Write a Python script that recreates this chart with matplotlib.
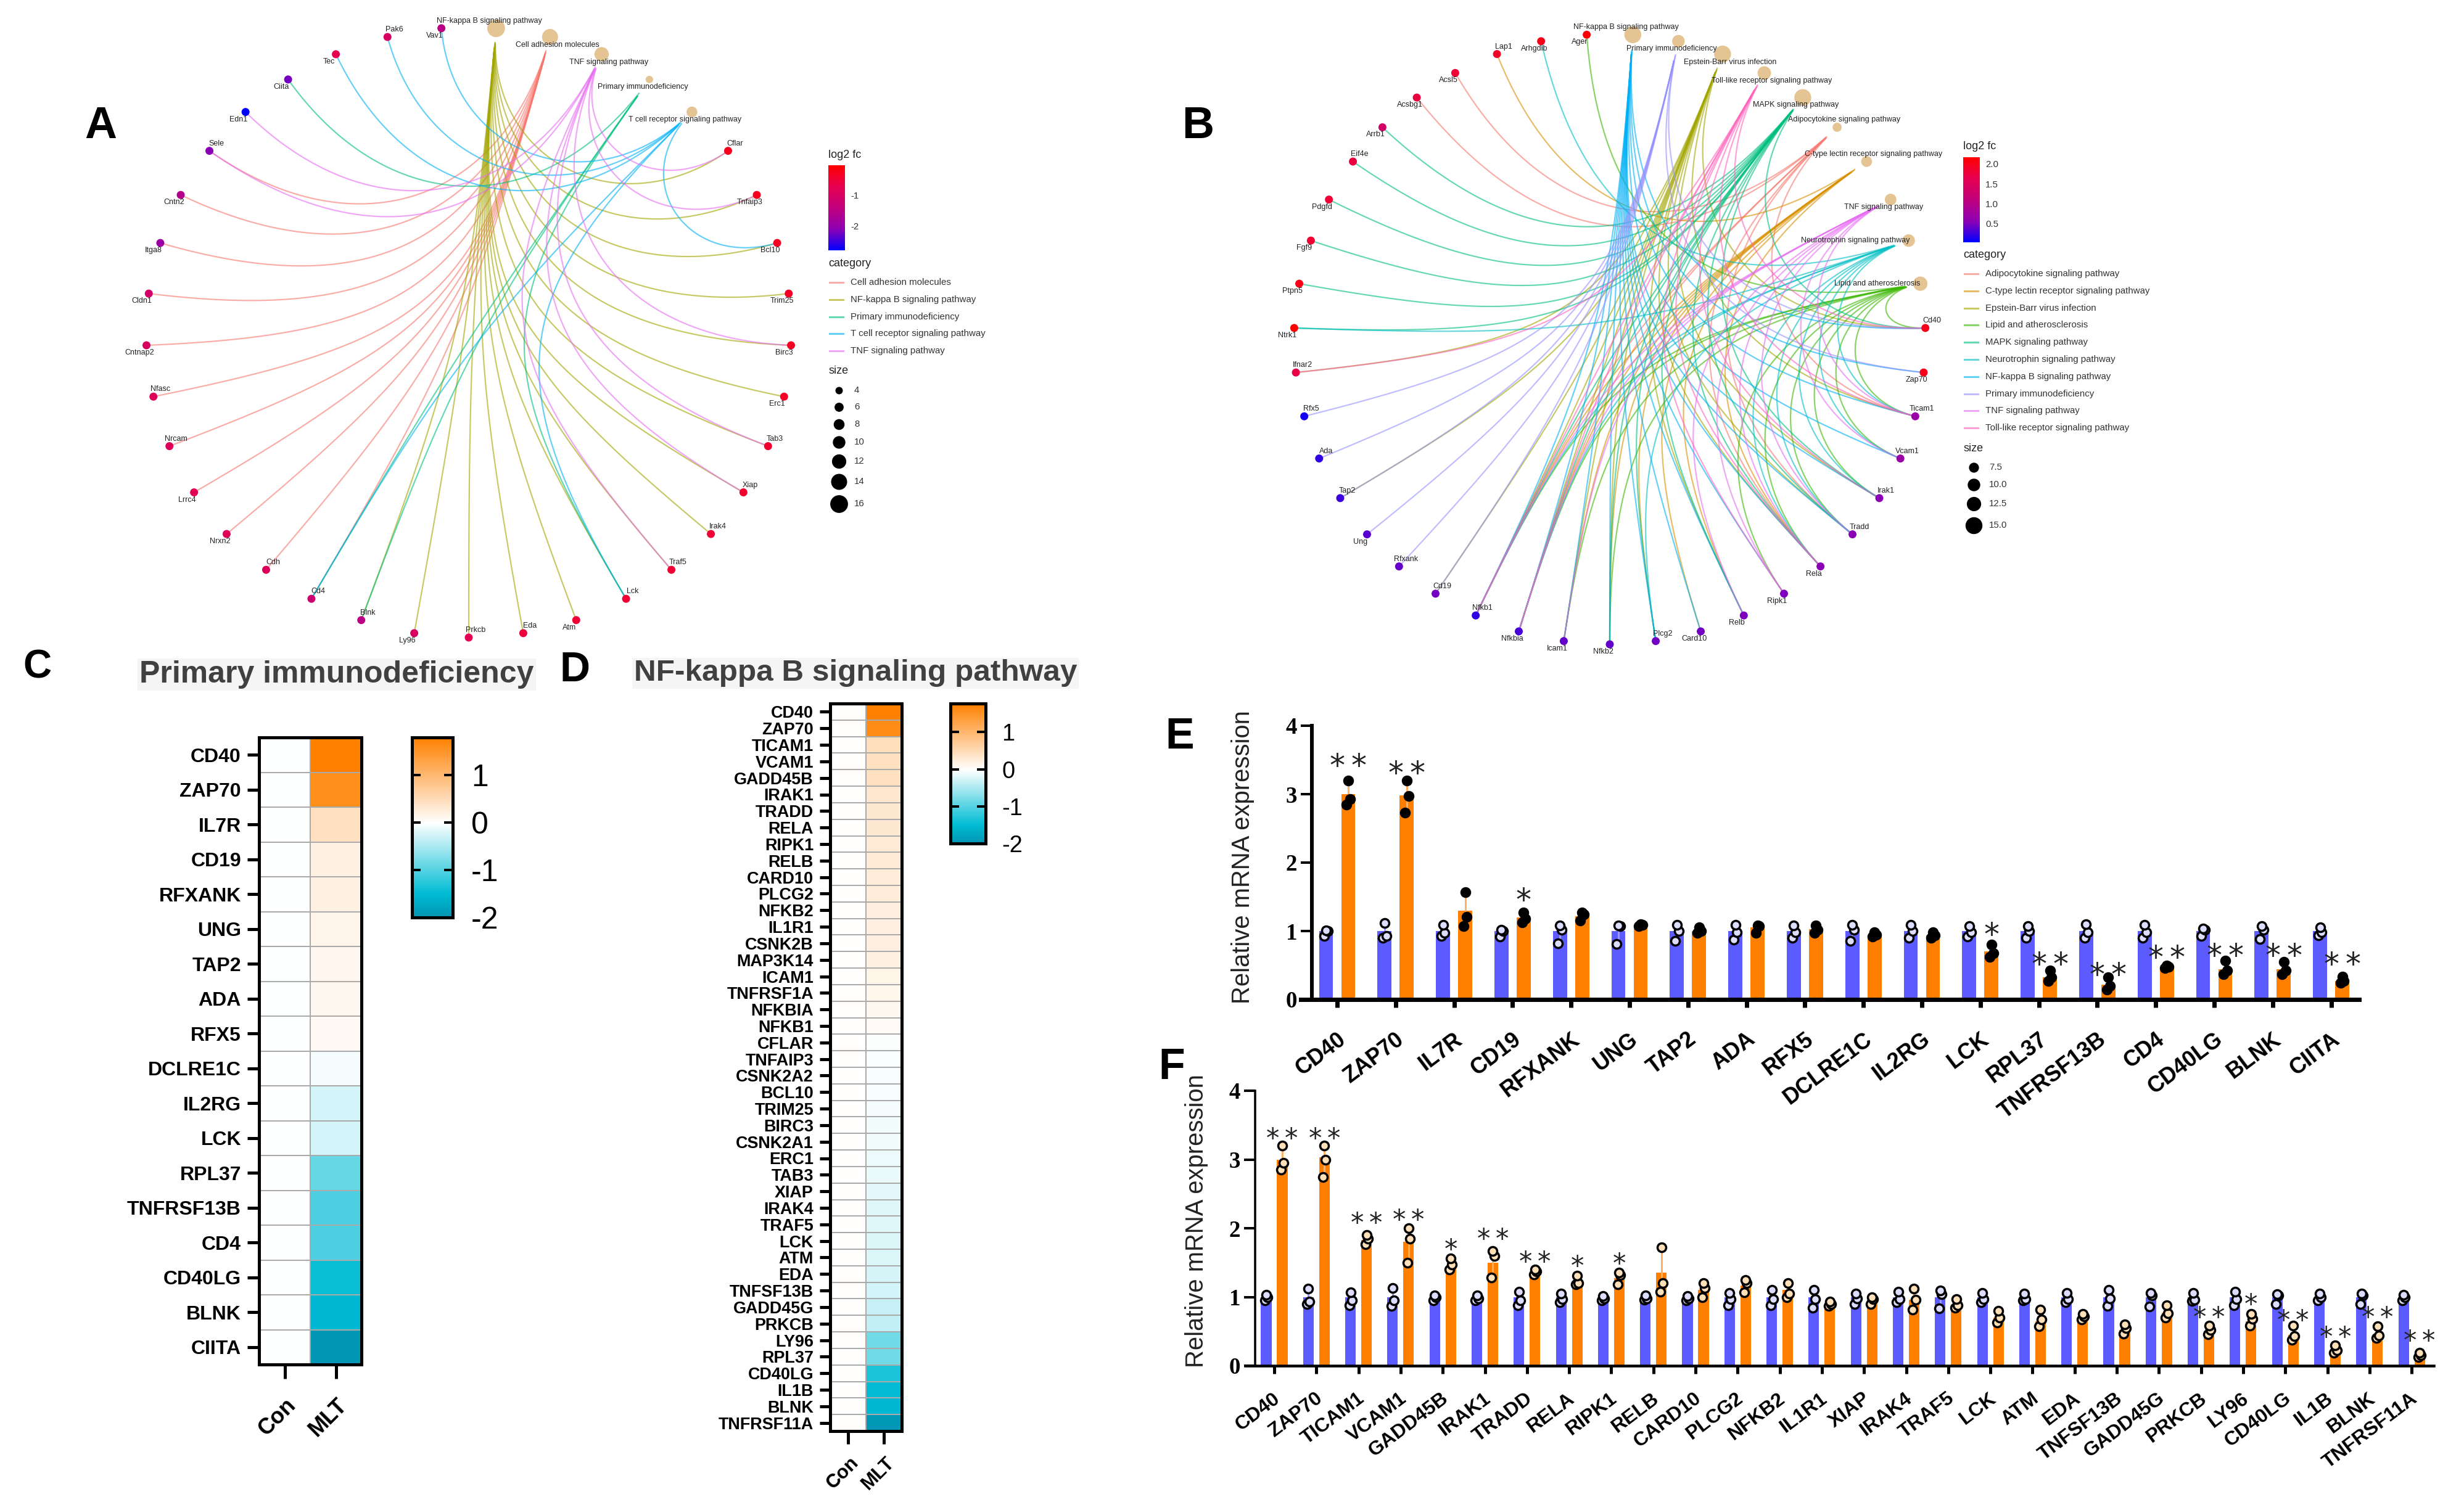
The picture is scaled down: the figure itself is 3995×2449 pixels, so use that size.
import numpy as np
import matplotlib
matplotlib.use("Agg")
import matplotlib.pyplot as plt
from matplotlib.colors import LinearSegmentedColormap, Normalize
from matplotlib.cm import ScalarMappable
from matplotlib.transforms import ScaledTranslation

W, H = 3995, 2449
plt.rcParams["font.family"] = ["Liberation Sans", "DejaVu Sans"]

# ---- network A ----
a_path = ["NF-kappa B signaling pathway", "Cell adhesion molecules", "TNF signaling pathway",
          "Primary immunodeficiency", "T cell receptor signaling pathway"]
a_path_size = [16, 14, 12, 4, 8]
a_genes = ["Cflar", "Tnfaip3", "Bcl10", "Trim25", "Birc3", "Erc1", "Tab3", "Xiap", "Irak4", "Traf5",
           "Lck", "Atm", "Eda", "Prkcb", "Ly96", "Blnk", "Cd4", "Cdh", "Nrxn2", "Lrrc4", "Nrcam",
           "Nfasc", "Cntnap2", "Cldn1", "Itga8", "Cntn2", "Sele", "Edn1", "Ciita", "Tec", "Pak6", "Vav1"]
a_fc = [-.3, -.3, -.35, -.4, -.35, -.4, -.45, -.45, -.5, -.5, -.5, -.5, -.55, -.75, -1.0, -1.5, -1.2,
        -.9, -.85, -.8, -.9, -.9, -1.0, -1.1, -1.9, -1.6, -2.1, -2.77, -2.2, -.7, -1.0, -1.5]
a_sides = ["ul", "dr", "dr", "dl", "dl", "ur", "dl", "dl", "dl", "dl", "dl", "ur", "ur", "ur", "ur", "ur",
           "dl", "ur", "ur", "dl", "ur", "ur", "ur", "dl", "dl", "ur", "ur", "dl", "dl", "dl", "dl", "ur",
           "dl", "dl", "dl", "ur", "dl"]
a_edges = {
    "Cell adhesion molecules": ["Sele", "Cntn2", "Itga8", "Cldn1", "Cntnap2", "Nfasc", "Nrcam", "Lrrc4",
                                "Nrxn2", "Cdh", "Cd4"],
    "NF-kappa B signaling pathway": ["Cflar", "Tnfaip3", "Bcl10", "Trim25", "Birc3", "Erc1", "Tab3", "Xiap",
                                     "Irak4", "Traf5", "Lck", "Atm", "Eda", "Prkcb", "Ly96", "Blnk"],
    "Primary immunodeficiency": ["Ciita", "Blnk", "Cd4", "Lck"],
    "T cell receptor signaling pathway": ["Bcl10", "Lck", "Cd4", "Tec", "Pak6", "Vav1"],
    "TNF signaling pathway": ["Edn1", "Sele", "Cflar", "Tnfaip3", "Birc3", "Tab3", "Xiap", "Traf5"],
}
a_edge_colors = ["#F8766D", "#A3A500", "#00BF7D", "#00B0F6", "#E76BF3"]
a_size_keys = ["4", "6", "8", "10", "12", "14", "16"]

# ---- network B ----
b_path = ["NF-kappa B signaling pathway", "Primary immunodeficiency", "Epstein-Barr virus infection",
          "Toll-like receptor signaling pathway", "MAPK signaling pathway", "Adipocytokine signaling pathway",
          "C-type lectin receptor signaling pathway", "TNF signaling pathway", "Neurotrophin signaling pathway",
          "Lipid and atherosclerosis"]
b_path_size = [15, 10, 15, 11, 15, 6, 8, 9, 10, 12]
b_genes = ["Cd40", "Zap70", "Ticam1", "Vcam1", "Irak1", "Tradd", "Rela", "Ripk1", "Relb", "Card10", "Plcg2",
           "Nfkb2", "Icam1", "Nfkbia", "Nfkb1", "Cd19", "Rfxank", "Ung", "Tap2", "Ada", "Rfx5", "Ifnar2",
           "Ntrk1", "Ptpn5", "Fgf9", "Pdgfd", "Eif4e", "Arrb1", "Acsbg1", "Acsl5", "Lap1", "Arhgdib", "Ager"]
b_fc = [2.0, 2.0, .7, .7, .55, .55, .55, .5, .5, .45, .45, .4, .4, .3, .2, .45, .4, .35, .25, .2, .1, 1.7,
        2.15, 2.0, 1.85, 1.8, 1.75, 1.35, 1.75, 1.8, 1.9, 2.0, 2.1]
b_sides = ["ul", "dl", "dr", "dr", "dl", "ur", "ur", "dl", "l1", "l2",
           "ur", "dl", "ur", "ur", "ur", "ur", "dl", "dl", "dl", "dl", "ur", "dl", "dl", "dl", "ur", "ur", "ur",
           "dl", "ur", "ur", "ur", "ur", "dl", "dl", "dl", "dl", "ur", "dl", "dl", "dl", "ur", "dl", "dl"]
b_edges = {
    "Adipocytokine signaling pathway": ["Acsbg1", "Acsl5", "Rela", "Nfkb1", "Tradd", "Nfkbia", "Ticam1"],
    "C-type lectin receptor signaling pathway": ["Lap1", "Nfkb2", "Plcg2", "Rela", "Relb", "Nfkb1", "Card10",
                                                 "Nfkbia", "Icam1"],
    "Epstein-Barr virus infection": ["Ifnar2", "Tap2", "Cd19", "Relb", "Nfkbia", "Rela", "Nfkb1", "Icam1",
                                     "Cd40", "Tradd", "Irak1", "Ticam1", "Nfkb2"],
    "Lipid and atherosclerosis": ["Ager", "Cd40", "Ticam1", "Vcam1", "Irak1", "Tradd", "Rela", "Ripk1", "Nfkb1",
                                  "Nfkbia", "Icam1", "Nfkb2"],
    "MAPK signaling pathway": ["Arrb1", "Eif4e", "Pdgfd", "Fgf9", "Ptpn5", "Ntrk1", "Cd40", "Irak1", "Tradd",
                               "Rela", "Nfkb1", "Nfkb2", "Relb", "Plcg2", "Nfkbia"],
    "Neurotrophin signaling pathway": ["Arhgdib", "Ntrk1", "Irak1", "Tradd", "Rela", "Nfkbia", "Nfkb1", "Ticam1",
                                       "Vcam1", "Plcg2"],
    "NF-kappa B signaling pathway": ["Cd40", "Zap70", "Ticam1", "Vcam1", "Irak1", "Tradd", "Rela", "Ripk1", "Relb",
                                     "Card10", "Plcg2", "Nfkb2", "Icam1", "Nfkbia", "Nfkb1"],
    "Primary immunodeficiency": ["Cd40", "Zap70", "Cd19", "Rfxank", "Ung", "Tap2", "Ada", "Rfx5"],
    "TNF signaling pathway": ["Vcam1", "Tradd", "Rela", "Ripk1", "Relb", "Icam1", "Nfkb1", "Nfkbia", "Ticam1"],
    "Toll-like receptor signaling pathway": ["Ifnar2", "Ticam1", "Ripk1", "Cd40", "Rela", "Irak1", "Nfkb1", "Nfkbia"],
}
b_edge_colors = ["#F8766D", "#D89000", "#A3A500", "#39B600", "#00BF7D", "#00BFC4", "#00B0F6", "#9590FF",
                 "#E76BF3", "#FF62BC"]
b_size_keys = ["7.5", "10.0", "12.5", "15.0"]

# ---- heatmaps ----
c_genes = ["CD40", "ZAP70", "IL7R", "CD19", "RFXANK", "UNG", "TAP2", "ADA", "RFX5", "DCLRE1C", "IL2RG", "LCK",
           "RPL37", "TNFRSF13B", "CD4", "CD40LG", "BLNK", "CIITA"]
c_mlt = [1.8, 1.6, .42, .2, .2, .15, .12, .1, .08, -.06, -.25, -.25, -.9, -1.05, -1.05, -1.45, -1.55, -2.0]
d_genes = ["CD40", "ZAP70", "TICAM1", "VCAM1", "GADD45B", "IRAK1", "TRADD", "RELA", "RIPK1", "RELB", "CARD10",
           "PLCG2", "NFKB2", "IL1R1", "CSNK2B", "MAP3K14", "ICAM1", "TNFRSF1A", "NFKBIA", "NFKB1", "CFLAR",
           "TNFAIP3", "CSNK2A2", "BCL10", "TRIM25", "BIRC3", "CSNK2A1", "ERC1", "TAB3", "XIAP", "IRAK4", "TRAF5",
           "LCK", "ATM", "EDA", "TNFSF13B", "GADD45G", "PRKCB", "LY96", "RPL37", "CD40LG", "IL1B", "BLNK",
           "TNFRSF11A"]
d_mlt = [1.77, 1.6, .45, .42, .42, .32, .3, .3, .28, .27, .25, .25, .22, .2, .2, .18, .15, .12, .08, .05, -.04,
         -.05, -.06, -.07, -.08, -.09, -.1, -.12, -.14, -.18, -.2, -.2, -.22, -.22, -.25, -.27, -.35, -.38, -.85,
         -.85, -1.35, -1.5, -1.55, -1.95]

# ---- bars E ----
e_genes = c_genes
e_mean = [3.0, 2.98, 1.3, 1.2, 1.22, 1.09, 1.0, 1.05, 1.03, .95, .94, .7, .32, .22, .48, .44, .44, .27]
e_con = [[.93, 1.0, 1.01], [.9, .93, 1.12], [.93, .97, 1.09], [.92, 1.0, 1.02], [.82, 1.02, 1.08], [.81, 1.07, 1.08],
         [.86, 1.0, 1.09], [.87, .98, 1.09], [.9, .98, 1.08], [.86, 1.02, 1.09], [.9, 1.0, 1.09], [.92, .98, 1.07],
         [.9, 1.0, 1.07], [.9, .98, 1.1], [.9, .98, 1.09], [.93, 1.02, 1.04], [.88, 1.02, 1.07], [.94, .98, 1.05]]
e_mlt = [[2.85, 2.93, 3.2], [2.73, 2.97, 3.2], [1.07, 1.21, 1.57], [1.13, 1.18, 1.27], [1.15, 1.24, 1.27],
         [1.07, 1.09, 1.1], [.97, 1.0, 1.05], [.97, 1.07, 1.08], [.97, 1.02, 1.08], [.92, .95, .98], [.9, .94, .98],
         [.62, .68, .8], [.27, .32, .42], [.14, .2, .32], [.46, .48, .5], [.37, .42, .57], [.37, .42, .55],
         [.24, .27, .33]]
e_stars = ["**", "**", "", "*", "", "", "", "", "", "", "", "*", "**", "**", "**", "**", "**", "**"]
e_star_y = [3.5, 3.4, 0, 1.54, 0, 0, 0, 0, 0, 0, 0, 1.04, .6, .45, .7, .73, .73, .6]

# ---- bars F ----
f_genes = ["CD40", "ZAP70", "TICAM1", "VCAM1", "GADD45B", "IRAK1", "TRADD", "RELA", "RIPK1", "RELB", "CARD10",
           "PLCG2", "NFKB2", "IL1R1", "XIAP", "IRAK4", "TRAF5", "LCK", "ATM", "EDA", "TNFSF13B", "GADD45G", "PRKCB",
           "LY96", "CD40LG", "IL1B", "BLNK", "TNFRSF11A"]
f_mean = [3.0, 3.03, 1.83, 1.8, 1.45, 1.5, 1.35, 1.2, 1.27, 1.35, 1.1, 1.17, 1.1, .9, .96, .96, .88, .7, .65, .7,
          .52, .77, .5, .65, .45, .22, .43, .15]
f_con = [[.95, 1.0, 1.03], [.9, .93, 1.12], [.88, .95, 1.07], [.87, .95, 1.13], [.95, 1.0, 1.02], [.95, .98, 1.02],
         [.88, .95, 1.08], [.92, .97, 1.05], [.95, .98, 1.01], [.96, .98, 1.02], [.95, .98, 1.01], [.88, .97, 1.06],
         [.88, .97, 1.1], [.84, .97, 1.1], [.9, .98, 1.05], [.92, .97, 1.08], [.83, 1.04, 1.09], [.92, .97, 1.06],
         [.95, .97, 1.05], [.92, .97, 1.06], [.87, .98, 1.1], [.86, 1.02, 1.06], [.94, .96, 1.06], [.88, .97, 1.08],
         [.9, 1.02, 1.04], [.95, 1.0, 1.05], [.9, 1.02, 1.05], [.95, 1.0, 1.03]]
f_mlt = [[2.85, 2.95, 3.2], [2.74, 3.0, 3.2], [1.77, 1.85, 1.9], [1.5, 1.85, 2.0], [1.4, 1.47, 1.56], [1.28, 1.6, 1.67],
         [1.33, 1.37, 1.4], [1.18, 1.2, 1.31], [1.18, 1.32, 1.35], [1.08, 1.2, 1.72], [1.0, 1.13, 1.2], [1.07, 1.2, 1.25],
         [1.0, 1.05, 1.2], [.87, .9, .93], [.9, .97, 1.0], [.82, .96, 1.12], [.84, .88, .97], [.63, .7, .8],
         [.57, .67, .82], [.67, .72, .75], [.47, .55, .6], [.7, .76, .88], [.46, .52, .58], [.58, .68, .75],
         [.38, .43, .58], [.19, .22, .3], [.4, .44, .57], [.13, .15, .19]]
f_stars = ["**", "**", "**", "**", "*", "**", "**", "*", "*", "", "", "", "", "", "", "", "", "", "", "", "", "",
           "**", "*", "**", "**", "**", "**"]
f_star_y = [3.38, 3.38, 2.16, 2.2, 1.77, 1.92, 1.59, 1.53, 1.56, 0, 0, 0, 0, 0, 0, 0, 0, 0, 0, 0, 0, 0, .78, .97,
            .74, .5, .78, .44]


def px(v):
    # pixels to points at dpi 100
    return v * 0.72


fig = plt.figure(figsize=(W / 100, H / 100), dpi=100, facecolor="white")


def px_axes(x0, y0, x1, y1):
    return fig.add_axes([x0 / W, 1 - y1 / H, (x1 - x0) / W, (y1 - y0) / H])


bg = fig.add_axes([0, 0, 1, 1], zorder=5)
bg.set_xlim(0, W)
bg.set_ylim(H, 0)
bg.axis("off")
bg.patch.set_alpha(0)

fc_cmap = LinearSegmentedColormap.from_list(
    "fc", ["#0000FF", "#8E00B4", "#C1007C", "#E60050", "#FF0000"])
heat_cmap = LinearSegmentedColormap.from_list(
    "heat", [(0, "#0095B3"), (0.5 / 3.8, "#00BCD4"), (2 / 3.8, "#FFFFFF"), (1, "#FF8000")])

SIDE = {"ur": (11, -12), "dl": (-11, 12), "ul": (-11, -12), "dr": (12, 13), "l1": (-86, 0), "l2": (-70, 0)}


def node_dia(size):
    return 12 + (size - 4) * 1.4


def network(cx, cy, rx, ry, paths, sizes, genes, fc, sides, edges, colors, vmin, vmax):
    ax = px_axes(cx - rx, cy - ry, cx + rx, cy + ry)
    ax.set_xlim(-1, 1)
    ax.set_ylim(-1, 1)
    ax.axis("off")
    names = list(paths) + list(genes)
    n = len(names)
    ang = np.pi / 2 - (np.arange(n) + 0.5) * 2 * np.pi / n
    xs, ys = np.cos(ang), np.sin(ang)
    pos = {nm: (xs[i], ys[i]) for i, nm in enumerate(names)}
    idx = {nm: i for i, nm in enumerate(names)}
    t = np.linspace(0, 1, 120)[:, None]
    for (path, members), col in zip(edges.items(), colors):
        p0 = np.array(pos[path])
        for g in members:
            p1 = np.array(pos[g])
            # neighbours on the ring bend less than far-apart nodes
            span = abs(idx[path] - idx[g]) * 360 / n
            span = min(span, 360 - span)
            strength = min(0.1 + span * 0.0068, 0.9)
            c0, c1 = p0 * (1 - strength), p1 * (1 - strength)
            curve = (1 - t) ** 3 * p0 + 3 * (1 - t) ** 2 * t * c0 + 3 * (1 - t) * t ** 2 * c1 + t ** 3 * p1
            keep = np.hypot(*(curve - p0).T) > 0.045
            ax.plot(curve[keep, 0], curve[keep, 1], color=col, alpha=0.6, lw=px(2.2), zorder=1, clip_on=False)
    norm = Normalize(vmin, vmax)
    ax.scatter(xs[:len(paths)], ys[:len(paths)], s=[px(node_dia(s)) ** 2 for s in sizes],
               color="#E5C494", linewidths=0, zorder=2, clip_on=False)
    ax.scatter(xs[len(paths):], ys[len(paths):], s=px(13) ** 2, c=fc, cmap=fc_cmap, norm=norm,
               linewidths=0, zorder=3, clip_on=False)
    for i, nm in enumerate(names):
        dx, dy = SIDE[sides[i]]
        bg.text(cx + xs[i] * rx + dx, cy - ys[i] * ry + dy, nm, fontsize=px(12.5), color="#222222",
                ha="center", va="center")


def side_legend(x, y_title, bar_box, ticks, tick_labels, vmin, vmax, cat_y, cat_step, paths, colors,
                size_y, size_keys, size_vals, size_pos):
    bg.text(x, y_title, "log2 fc", fontsize=px(18), color="#222222", va="center")
    cax = px_axes(*bar_box)
    cb = fig.colorbar(ScalarMappable(Normalize(vmin, vmax), fc_cmap), cax=cax)
    cb.outline.set_visible(False)
    cb.set_ticks(ticks, labels=tick_labels)
    cax.tick_params(length=0, pad=px(9), labelsize=px(15), labelcolor="#333333")
    bg.text(x, cat_y - cat_step * 1.1, "category", fontsize=px(18), color="#222222", va="center")
    for i, (p, c) in enumerate(zip(paths, colors)):
        y = cat_y + i * cat_step
        bg.plot([x + 2, x + 24], [y, y], color=c, alpha=0.6, lw=px(3))
        bg.text(x + 36, y, p, fontsize=px(15), color="#333333", va="center")
    bg.text(x, size_y, "size", fontsize=px(18), color="#222222", va="center")
    for k, v, y in zip(size_keys, size_vals, size_pos):
        bg.scatter([x + 17], [y], s=px(node_dia(v)) ** 2, color="black", linewidths=0)
        bg.text(x + 42, y, k, fontsize=px(15), color="#333333", va="center")


network(760, 539, 523, 495, a_path, a_path_size, a_genes, a_fc, a_sides, a_edges, a_edge_colors, -2.77, -0.05)
network(2610, 550, 512, 495, b_path, b_path_size, b_genes, b_fc, b_sides, b_edges, b_edge_colors, 0.02, 2.17)

side_legend(1343, 252, (1343, 268, 1370, 406), [-1, -2], ["-1", "-2"], -2.77, -0.05, 458, 27.8,
            list(a_edges.keys()), a_edge_colors, 602, a_size_keys, [4, 6, 8, 10, 12, 14, 16],
            [633, 660, 688, 717, 748, 781, 817])
side_legend(3183, 237, (3183, 255, 3210, 393), [2.0, 1.5, 1.0, 0.5], ["2.0", "1.5", "1.0", "0.5"], 0.02, 2.17,
            444, 27.8, list(b_edges.keys()), b_edge_colors, 728, b_size_keys, [7, 10, 12, 15], [758, 786, 817, 852])


def heatmap(box, genes, mlt, cbar_box, vmax, tick_px, label_px, cbar_px, lab_dx, lab_pad, tlen):
    ax = px_axes(*box)
    vals = np.column_stack([np.zeros(len(mlt)), mlt])
    ax.pcolormesh([0, 1, 2], np.arange(len(mlt) + 1), vals, cmap=heat_cmap, vmin=-2, vmax=vmax,
                  edgecolors="#AAAAAA", linewidth=px(1.5))
    ax.set_ylim(len(mlt), 0)
    ax.set_yticks(np.arange(len(mlt)) + 0.5, genes, fontsize=px(label_px), fontweight="bold")
    ax.set_xticks([0.5, 1.5], ["Con", "MLT"], fontsize=px(label_px + 4), fontweight="bold", rotation=45,
                  ha="right", va="center", rotation_mode="anchor")
    ax.tick_params(axis="y", length=px(tlen), width=px(5), pad=px(10))
    ax.tick_params(axis="x", length=px(tlen + 4), width=px(5), pad=px(lab_pad))
    off = ScaledTranslation(lab_dx / 100, 0, fig.dpi_scale_trans)
    for lb in ax.get_xticklabels():
        lb.set_transform(lb.get_transform() + off)
    for s in ax.spines.values():
        s.set_linewidth(px(5))
    cax = px_axes(*cbar_box)
    cb = fig.colorbar(ScalarMappable(Normalize(-2, vmax), heat_cmap), cax=cax)
    cb.set_ticks([1, 0, -1, -2], labels=["1", "0", "-1", "-2"])
    cb.outline.set_linewidth(px(5))
    cax.tick_params(direction="in", left=True, right=True, length=px(14), width=px(4),
                    labelsize=px(cbar_px), pad=px(tick_px))


heatmap((420, 1196, 586, 2213), c_genes, c_mlt, (668, 1196, 734, 1488), 1.8, 30, 32, 50, 13, 38, 19)
heatmap((1346, 1141, 1462, 2321), d_genes, d_mlt, (1541, 1141, 1598, 1368), 1.77, 26, 27, 38, 13, 26, 17)

BLUE = "#5B5BFF"
ORANGE = "#FF8000"


def bars(box, spine_x, tick0, step, genes, mean, con, mlt, stars, star_y, off, width, con_face, mlt_face,
         lab_px, lab_dx, lab_pad, axis_w, tick_w, star_px):
    ax = px_axes(*box)
    ax.patch.set_alpha(0)
    x = np.arange(len(genes))
    ax.set_xlim((box[0] - tick0) / step, (box[2] - tick0) / step)
    ax.set_ylim(0, 4)
    con_mean = np.ones(len(genes))
    ax.bar(x - off, con_mean, width, color=BLUE, zorder=1)
    ax.bar(x + off, mean, width, color=ORANGE, zorder=1)
    ax.errorbar(x - off, con_mean, yerr=np.std(con, axis=1, ddof=1), fmt="none", ecolor="#9A9AFF",
                elinewidth=px(3), zorder=2)
    ax.errorbar(x + off, mean, yerr=np.std(mlt, axis=1, ddof=1), fmt="none", ecolor="#FFB060",
                elinewidth=px(3), zorder=2)
    jit = np.array([-0.03, 0.03, 0.0])
    for i in x:
        ax.scatter(i - off + jit, con[i], s=px(14) ** 2, facecolor=con_face, edgecolor="black",
                   linewidth=px(3.5), zorder=3, clip_on=False)
        ax.scatter(i + off + jit, mlt[i], s=px(14) ** 2, facecolor=mlt_face, edgecolor="black",
                   linewidth=px(3.5), zorder=3, clip_on=False)
        if stars[i]:
            ax.annotate(stars[i].replace("**", "*\u2009*"), (i + off, star_y[i]), xytext=(0, -px(star_px * 0.52)),
                        textcoords="offset points", fontsize=px(star_px), family="DejaVu Sans", ha="center",
                        va="baseline", color="#222222", annotation_clip=False)
    ax.spines[["top", "right"]].set_visible(False)
    ax.spines["left"].set_position(("data", (spine_x - tick0) / step))
    ax.spines["left"].set_linewidth(px(axis_w - 1))
    ax.spines["bottom"].set_linewidth(px(axis_w))
    ax.set_yticks([0, 1, 2, 3, 4])
    ax.tick_params(axis="y", length=px(18), width=px(4), pad=px(6))
    for lb in ax.get_yticklabels():
        lb.set_fontproperties({"family": "Liberation Serif", "weight": "bold", "size": px(37)})
    ax.set_xticks(x, genes, fontsize=px(lab_px), fontweight="bold", rotation=37, ha="right", va="center",
                  rotation_mode="anchor")
    ax.tick_params(axis="x", length=px(13), width=px(tick_w), pad=px(lab_pad))
    shift = ScaledTranslation(lab_dx / 100, 0, fig.dpi_scale_trans)
    for lb in ax.get_xticklabels():
        lb.set_transform(lb.get_transform() + shift)


bars((2109, 1177, 3825, 1621), 2127, 2168, 94.8, e_genes, e_mean, e_con, e_mlt, e_stars, e_star_y, 0.19, 0.24,
     "#DDDDFF", "black", 36, 10, 48, 7, 7, 50)
bars((2019, 1769, 3946, 2215), 2035, 2066, 68.3, f_genes, f_mean, f_con, f_mlt, f_stars, f_star_y, 0.19, 0.25,
     "#DCDCFF", "#FFE0B8", 32, 6, 37, 4.5, 5, 43)

bg.text(2015, 1390, "Relative mRNA expression", rotation=90, fontsize=px(40), ha="center", va="center",
        color="#222222")
bg.text(1940, 1980, "Relative mRNA expression", rotation=90, fontsize=px(40), ha="center", va="center",
        color="#222222")

# titles of the heatmaps
for xc, yc, txt, size in [(546, 1094, "Primary immunodeficiency", 50), (1387, 1092, "NF-kappa B signaling pathway", 49.5)]:
    bg.text(xc, yc, txt, fontsize=px(size), fontweight="bold", color="#404040", ha="center", va="center",
            bbox=dict(facecolor="#F5F5F5", edgecolor="none", pad=px(3)))

# panel letters
for letter, xc, yc, size in [("A", 163, 205, 72), ("B", 1942, 205, 72), ("C", 60, 1083, 64), ("D", 932, 1087, 68),
                             ("E", 1913, 1196, 70), ("F", 1900, 1732, 70)]:
    bg.text(xc, yc, letter, fontsize=px(size), fontweight="bold", ha="center", va="center")

fig.savefig("out.png", dpi=100, facecolor="white")
